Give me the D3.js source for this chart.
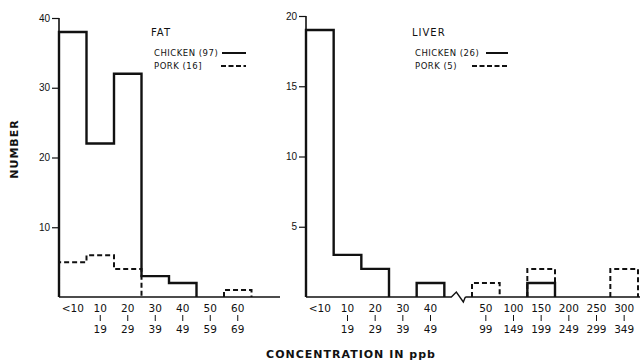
<!DOCTYPE html>
<html lang="en">
<head>
<meta charset="utf-8">
<title>Residues in fat and liver</title>
<script src="https://cdn.jsdelivr.net/npm/d3@7"></script>
<style>
  body { margin: 0; background: #fff; }
  svg { display: block; font-family: "DejaVu Sans", sans-serif; }
  .tick-top, .tick-bot { font-size: 10.5px; fill: #111; }
  .ylab { font-size: 10px; fill: #111; }
  .legend { font-size: 8.5px; fill: #111; letter-spacing: 0.5px; }
  .title { font-size: 10px; fill: #111; letter-spacing: 1px; }
  .axtitle { font-size: 11px; font-weight: bold; fill: #111; letter-spacing: 1px; }
</style>
</head>
<body>
<script>
// --- data (counts) ---
var fatBins = ["<10", "10-19", "20-29", "30-39", "40-49", "50-59", "60-69"];
var fatChicken = [38, 22, 32, 3, 2, 0, 0];
var fatPork = [5, 6, 4, 0, 0, 0, 1];
var fatTicks = [10, 20, 30, 40];

var liverBins = ["<10", "10-19", "20-29", "30-39", "40-49", "50-99", "100-149", "150-199", "200-249", "250-299", "300-349"];
var liverChicken = [19, 3, 2, 0, 1, 0, 0, 1, 0, 0, 0];
var liverPork = [0, 0, 0, 0, 0, 1, 0, 2, 0, 0, 2];
var liverTicks = [5, 10, 15, 20];

var w = 642, h = 361;
var base = 297;

var svg = d3.select("body").append("svg").attr("width", w).attr("height", h);

// step outline for each run of non-zero bins
function runs(bins, vals) {
  var out = [], cur = null;
  bins.forEach(function(b, i) {
    if (vals[i] > 0) {
      if (!cur) { cur = []; out.push(cur); }
      cur.push({bin: b, v: vals[i]});
    } else cur = null;
  });
  return out;
}

function stepPath(run, x, y) {
  var p = d3.path();
  p.moveTo(x(run[0].bin), y(0));
  run.forEach(function(d) {
    p.lineTo(x(d.bin), y(d.v));
    p.lineTo(x(d.bin) + x.bandwidth(), y(d.v));
  });
  var last = run[run.length - 1];
  p.lineTo(x(last.bin) + x.bandwidth(), y(0));
  return p.toString();
}

function panel(o) {
  var g = svg.append("g");
  var x = d3.scaleBand().domain(o.slots).range([o.x0, o.x1]).padding(0);
  var y = d3.scaleLinear().domain([0, o.ymax]).range([base, o.ytop]);

  // axes
  var yAxis = d3.axisLeft(y).tickValues(o.ticks).tickSize(7).tickFormat(d3.format("d"));
  var ya = g.append("g").attr("transform", "translate(" + o.x0 + ",0)").call(yAxis);
  ya.select(".domain").attr("d", "M0," + y(o.ymax) + "V" + base).attr("stroke", "#111").attr("stroke-width", 1.6);
  ya.selectAll(".tick line").attr("stroke", "#111").attr("stroke-width", 1.2);
  ya.selectAll(".tick text").attr("class", "ylab").attr("x", -9).style("font-size", "10px");

  // baseline (with optional break)
  var bl = d3.path();
  bl.moveTo(o.x0, base);
  if (o.brk) {
    var bx = x(o.brk);
    bl.lineTo(bx + 7, base);
    bl.lineTo(bx + 12, base - 5);
    bl.lineTo(bx + 19, base + 5);
    bl.lineTo(bx + 21, base);
    bl.moveTo(bx + 21, base);
  }
  bl.lineTo(o.axEnd, base);
  g.append("path").attr("d", bl.toString()).attr("fill", "none").attr("stroke", "#111").attr("stroke-width", 1.4);

  // histograms: pork dashed under chicken solid
  g.selectAll(".pork").data(runs(o.bins, o.pork)).enter().append("path")
    .attr("d", function(r) { return stepPath(r, x, y); })
    .attr("fill", "none").attr("stroke", "#111").attr("stroke-width", 2)
    .attr("stroke-dasharray", "5,3");
  g.selectAll(".chicken").data(runs(o.bins, o.chicken)).enter().append("path")
    .attr("d", function(r) { return stepPath(r, x, y); })
    .attr("fill", "none").attr("stroke", "#111").attr("stroke-width", 2.4);

  // bin labels
  var lab = g.selectAll(".bl").data(o.bins).enter().append("g")
    .attr("transform", function(b) { return "translate(" + (x(b) + x.bandwidth() / 2) + ",0)"; });
  lab.append("text").attr("class", "tick-top").attr("y", 312).attr("text-anchor", "middle")
    .text(function(b) { return b.split("-")[0]; });
  lab.filter(function(b) { return b.indexOf("-") > 0; }).append("line")
    .attr("y1", 315).attr("y2", 321).attr("stroke", "#111").attr("stroke-width", 1);
  lab.filter(function(b) { return b.indexOf("-") > 0; }).append("text")
    .attr("class", "tick-bot").attr("y", 333).attr("text-anchor", "middle")
    .text(function(b) { return b.split("-")[1]; });

  // legend
  g.append("text").attr("class", "title").attr("x", o.lx - 3).attr("y", 36).text(o.title);
  g.append("text").attr("class", "legend").attr("x", o.lx).attr("y", 56).text(o.lc);
  g.append("text").attr("class", "legend").attr("x", o.lx).attr("y", 69).text(o.lp);
  g.append("line").attr("x1", o.lcx[0]).attr("x2", o.lcx[1]).attr("y1", 53).attr("y2", 53)
    .attr("stroke", "#111").attr("stroke-width", 2);
  g.append("line").attr("x1", o.lpx[0]).attr("x2", o.lpx[1]).attr("y1", 66).attr("y2", 66)
    .attr("stroke", "#111").attr("stroke-width", 2.2).attr("stroke-dasharray", "5,2.5");
}

panel({
  slots: fatBins, bins: fatBins, chicken: fatChicken, pork: fatPork,
  x0: 59, x1: 251.5, axEnd: 280, ymax: 40, ytop: 18, ticks: fatTicks,
  title: "FAT", lc: "CHICKEN (97)", lp: "PORK (16]", lx: 154, lcx: [222, 246], lpx: [221, 246]
});

var liverSlots = liverBins.slice(0, 5).concat(["brk"], liverBins.slice(5));
panel({
  slots: liverSlots, bins: liverBins, chicken: liverChicken, pork: liverPork, brk: "brk",
  x0: 306, x1: 638, axEnd: 640, ymax: 20, ytop: 16, ticks: liverTicks,
  title: "LIVER", lc: "CHICKEN (26)", lp: "PORK (5)", lx: 415, lcx: [486, 508], lpx: [472, 508]
});

// axis titles
svg.append("text").attr("class", "axtitle")
  .attr("transform", "translate(18,149) rotate(-90)").attr("text-anchor", "middle").text("NUMBER");
svg.append("text").attr("class", "axtitle").attr("x", 351).attr("y", 358)
  .attr("text-anchor", "middle").text("CONCENTRATION IN ppb");
</script>
</body>
</html>
